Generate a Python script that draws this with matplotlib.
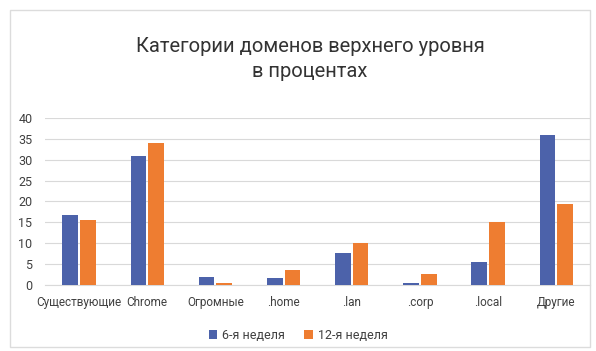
import matplotlib
matplotlib.use('Agg')
import matplotlib.pyplot as plt
import numpy as np
from matplotlib.patches import Rectangle

plt.rcParams['font.family'] = ['Roboto', 'DejaVu Sans']

categories = ['Существующие', 'Chrome', 'Огромные', '.home', '.lan', '.corp', '.local', 'Другие']
week6 = [16.8, 30.8, 2.0, 1.7, 7.7, 0.6, 5.6, 36.0]
week12 = [15.6, 34.0, 0.6, 3.6, 10.1, 2.6, 15.0, 19.4]
series_names = ['6-я неделя', '12-я неделя']

text_color = '#404040'
blue = '#4C62AA'
orange = '#EE7D31'

fig = plt.figure(figsize=(5.96, 3.51), dpi=100)
fig.patch.set_facecolor('white')

# light frame around the chart area
fig.patches.append(Rectangle((10 / 596, 4 / 351), 580 / 596, 337 / 351,
                             transform=fig.transFigure, fill=False,
                             edgecolor='#dcdcdc', linewidth=1.0))

ax = fig.add_axes([0.0755, 0.188, 0.915, 0.476])

x = np.arange(len(categories))
w = 0.23
ax.bar(x - 0.13, week6, width=w, color=blue, label=series_names[0], zorder=3)
ax.bar(x + 0.13, week12, width=w, color=orange, label=series_names[1], zorder=3)

ax.set_xlim(-0.5, len(categories) - 0.5)
ax.set_ylim(0, 40)
ax.set_yticks(range(0, 41, 5))
ax.yaxis.grid(True, color='#d9d9d9', linewidth=0.8, zorder=0)
ax.set_axisbelow(True)

for side in ['top', 'right', 'left']:
    ax.spines[side].set_visible(False)
ax.spines['bottom'].set_color('#d9d9d9')

ax.set_xticks(x)
ax.set_xticklabels(categories)
ax.tick_params(axis='both', length=0, labelsize=9, colors=text_color)
ax.tick_params(axis='x', pad=8, labelsize=8.5)
ax.tick_params(axis='y', pad=9)

fig.text(0.52, 0.832, 'Категории доменов верхнего уровня\nв процентах',
         ha='center', va='center', fontsize=14.5, color='#333333', linespacing=1.45)

fig.legend(loc='center', bbox_to_anchor=(0.5, 0.045), ncol=2, frameon=False,
           fontsize=9, handlelength=0.7, handleheight=0.7, handletextpad=0.4,
           columnspacing=1.5, labelcolor=text_color)

fig.savefig('out.png', dpi=100)
